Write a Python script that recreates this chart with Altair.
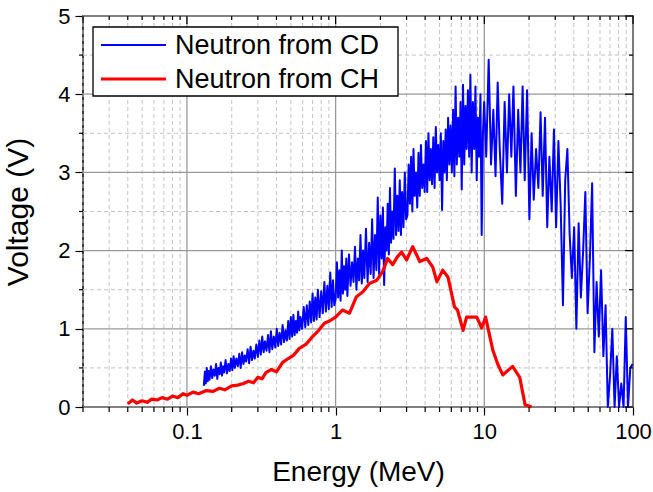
import altair as alt
import pandas as pd

# ---- data ----
cd_x = [0.13, 0.132, 0.134, 0.136, 0.138, 0.14, 0.142, 0.145, 0.148, 0.151, 0.154, 0.157,
        0.16, 0.163, 0.166, 0.169, 0.172, 0.175, 0.178, 0.182, 0.186, 0.19, 0.194, 0.198,
        0.202, 0.206, 0.21, 0.215, 0.22, 0.225, 0.23, 0.235, 0.24, 0.245, 0.25, 0.256,
        0.262, 0.268, 0.274, 0.28, 0.286, 0.293,
        0.3, 0.307, 0.314, 0.321, 0.328, 0.335, 0.343, 0.351, 0.359, 0.367, 0.375, 0.384,
        0.393, 0.402, 0.411, 0.42, 0.43, 0.44, 0.45, 0.46, 0.47, 0.48, 0.49,
        0.5, 0.51, 0.52, 0.53, 0.54, 0.55, 0.56, 0.57, 0.58, 0.595, 0.61, 0.625, 0.64, 0.655,
        0.67, 0.685, 0.7, 0.715, 0.73, 0.745, 0.76, 0.78, 0.8, 0.82, 0.84, 0.86, 0.88, 0.9,
        0.92, 0.94, 0.96, 0.98,
        1.0, 1.02, 1.04, 1.06, 1.08, 1.1, 1.12, 1.14, 1.16, 1.18, 1.2, 1.23, 1.26, 1.29,
        1.32, 1.35, 1.38, 1.41, 1.44, 1.47, 1.5, 1.53, 1.56, 1.6, 1.64, 1.68, 1.72, 1.76,
        1.8, 1.84, 1.88, 1.92, 1.96,
        2.0, 2.04, 2.08, 2.12, 2.16, 2.2, 2.24, 2.28, 2.32, 2.36, 2.4, 2.45, 2.5, 2.55,
        2.6, 2.65, 2.7, 2.75, 2.8, 2.86, 2.92, 2.98,
        3.04, 3.1, 3.16, 3.22, 3.28, 3.34, 3.4, 3.47, 3.54, 3.61, 3.68, 3.75, 3.82, 3.9, 3.97,
        4.05, 4.13, 4.21, 4.29, 4.37, 4.45, 4.54, 4.63, 4.72, 4.81, 4.9, 5.0, 5.1, 5.2,
        5.3, 5.4, 5.5, 5.6, 5.71, 5.82, 5.93,
        6.05, 6.17, 6.29, 6.41, 6.53, 6.66, 6.79, 6.92, 7.05, 7.19, 7.33, 7.47, 7.61, 7.76, 7.91,
        8.06, 8.22, 8.38, 8.55, 8.72, 8.89, 9.06, 9.24, 9.42, 9.6, 9.79, 9.98,
        10.3, 10.7, 11.1, 11.5, 11.9, 12.3, 12.7, 13.2, 13.7, 14.2, 14.7,
        15.2, 15.7, 16.3, 16.9, 17.5, 18.1, 18.7, 19.4,
        20.1, 20.8, 21.5, 22.3, 23.1, 23.9, 24.7,
        25.6, 26.5, 27.4, 28.4, 29.4, 30.4, 31.5, 32.6, 33.8, 35.0,
        36.2, 37.5, 38.8, 40.2, 41.6, 43.1, 44.6, 46.2, 47.8, 49.5,
        51.3, 53.1, 55.0, 56.9, 58.9,
        61.0, 63.2, 65.4, 67.7, 70.1,
        72.6, 75.2, 77.8, 80.6, 83.4, 86.4, 89.4, 92.6, 95.9, 99.3]
cd_y = [0.27, 0.45, 0.3, 0.5, 0.33, 0.46, 0.35, 0.52, 0.37, 0.48, 0.4, 0.55,
        0.36, 0.5, 0.42, 0.57, 0.4, 0.52, 0.44, 0.6, 0.43, 0.55, 0.46, 0.62,
        0.47, 0.65, 0.5, 0.62, 0.52, 0.68, 0.5, 0.7, 0.55, 0.66, 0.58, 0.74,
        0.56, 0.77, 0.6, 0.72, 0.62, 0.8,
        0.64, 0.85, 0.67, 0.9, 0.7, 0.84, 0.72, 0.92, 0.7, 0.97, 0.74, 0.9,
        0.76, 1.0, 0.78, 0.95, 0.8, 1.05, 0.83, 0.98, 0.85, 1.1, 0.87,
        1.15, 0.9, 1.18, 0.92, 1.1, 0.95, 1.22, 0.98, 1.15, 1.0, 1.28, 1.02, 1.3, 1.05,
        1.35, 1.08, 1.45, 1.1, 1.4, 1.12, 1.5, 1.15, 1.48, 1.2, 1.6, 1.22, 1.55, 1.25,
        1.72, 1.28, 1.62, 1.3,
        1.38, 1.85, 1.4, 1.75, 1.36, 2.0, 1.45, 1.8, 1.5, 1.9, 1.42, 1.95, 1.55, 1.85,
        1.6, 2.05, 1.5, 1.9, 1.62, 2.2, 1.58, 2.0, 1.65, 2.28, 1.6, 2.1, 1.7, 2.4,
        1.65, 2.2, 1.75, 2.68, 1.7,
        2.45, 1.9, 2.55, 1.56, 2.3, 2.0, 2.6, 1.95, 2.8, 2.1, 2.5, 2.15, 3.05, 2.2,
        2.7, 2.25, 2.9, 2.2, 2.75, 2.3, 3.0, 2.4,
        2.45, 3.1, 2.6, 3.2, 2.5, 3.3, 2.7, 3.0, 2.55, 3.25, 2.7, 3.35, 2.8, 3.1, 2.75,
        3.4, 2.75, 3.5, 2.9, 3.3, 2.85, 3.45, 2.8, 3.58, 3.0, 3.35, 2.9, 3.5, 2.52,
        3.4, 3.0, 3.55, 2.9, 3.7, 3.1, 3.6,
        3.0, 3.8, 2.95, 4.1, 3.1, 3.7, 3.2, 3.9, 2.78, 4.12, 3.1, 3.85, 3.3, 4.05, 3.2,
        4.25, 3.0, 3.9, 3.3, 4.1, 2.9, 3.7, 3.2, 4.0, 2.2, 3.5, 3.9,
        3.2, 4.44, 3.1, 3.8, 2.95, 4.15, 3.3, 2.6, 3.9, 3.0, 4.0,
        3.2, 4.1, 2.7, 3.8, 3.0, 4.1, 2.9, 4.05,
        2.4, 3.5, 2.65, 3.3, 2.8, 3.77, 2.7,
        3.7, 2.3, 3.2, 2.5, 3.55, 2.3, 3.4, 2.6, 1.3, 2.9,
        3.3, 2.2, 1.65, 2.3, 1.0, 2.35, 1.4, 2.0, 2.75, 1.2,
        1.9, 2.86, 0.7, 1.6, 0.9,
        1.75, 0.65, 1.3, 0.0, 0.4,
        1.0, 0.0, 0.65, 0.0, 0.3, 0.0, 1.15, 0.0, 0.5, 0.55]

ch_x = [0.04, 0.043, 0.046, 0.05, 0.054, 0.058, 0.063, 0.068, 0.074, 0.08,
        0.087, 0.094, 0.1, 0.11, 0.12, 0.135, 0.15, 0.165, 0.18, 0.2,
        0.22, 0.24, 0.26, 0.28, 0.3, 0.32, 0.34, 0.37, 0.4, 0.44,
        0.48, 0.52, 0.57, 0.63, 0.7, 0.77, 0.84, 0.91, 1.0, 1.11,
        1.24, 1.38, 1.52, 1.69, 1.89, 2.07, 2.24, 2.42, 2.6, 2.78,
        3.0, 3.3, 3.68, 4.1, 4.5, 4.8, 5.25, 5.7, 6.3, 6.6,
        7.2, 7.6, 8.9, 9.6, 10.2, 11.4, 12.3, 13.3, 15.5, 17.3,
        18.8, 20.8]
ch_y = [0.04, 0.09, 0.05, 0.08, 0.06, 0.1, 0.09, 0.12, 0.1, 0.14,
        0.12, 0.17, 0.15, 0.19, 0.17, 0.21, 0.2, 0.24, 0.22, 0.27,
        0.28, 0.3, 0.33, 0.31, 0.38, 0.36, 0.44, 0.48, 0.45, 0.57,
        0.62, 0.66, 0.75, 0.8, 0.9, 0.98, 1.07, 1.1, 1.15, 1.24,
        1.2, 1.41, 1.47, 1.58, 1.62, 1.73, 1.9, 1.82, 1.92, 1.98,
        1.88, 2.05, 1.86, 1.9, 1.79, 1.6, 1.75, 1.66, 1.28, 1.24,
        0.98, 1.15, 1.15, 1.01, 1.15, 0.73, 0.55, 0.41, 0.52, 0.38,
        0.03, 0.0]

series_names = ["Neutron from CD", "Neutron from CH"]
series_colors = ["#0000ff", "#ff0000"]
series_widths = [2.0, 3.2]

x_major = [0.1, 1, 10, 100]
x_minor = [0.02, 0.03, 0.04, 0.05, 0.06, 0.07, 0.08, 0.09,
           0.2, 0.3, 0.4, 0.5, 0.6, 0.7, 0.8, 0.9,
           2, 3, 4, 5, 6, 7, 8, 9,
           20, 30, 40, 50, 60, 70, 80, 90]
y_major = [0, 1, 2, 3, 4, 5]
y_minor = [0.5, 1.5, 2.5, 3.5, 4.5]

assert len(cd_x) == len(cd_y), (len(cd_x), len(cd_y))
assert len(ch_x) == len(ch_y)

df = pd.concat([
    pd.DataFrame({"energy": cd_x, "voltage": cd_y, "series": series_names[0]}),
    pd.DataFrame({"energy": ch_x, "voltage": ch_y, "series": series_names[1]}),
])

W, H = 550, 391
FONT = "Liberation Sans"
xscale = alt.Scale(type="log", domain=[0.02, 100], nice=False)
yscale = alt.Scale(domain=[0, 5], nice=False, zero=False)

x_axis = alt.Axis(
    values=x_major, title="Energy (MeV)", format="~g", grid=False, domain=False,
    tickSize=8, tickColor="black", tickWidth=1.2,
    labelFont=FONT, labelFontSize=22, labelColor="black", labelPadding=6,
    titleFont=FONT, titleFontSize=28, titleFontWeight="normal",
    titleColor="black", titlePadding=16, labelFlush=False, labelOverlap=False,
)
y_axis = alt.Axis(
    values=y_major, title="Voltage (V)", grid=False, domain=False,
    tickSize=8, tickColor="black", tickWidth=1.2,
    labelFont=FONT, labelFontSize=22, labelColor="black", labelPadding=5,
    titleFont=FONT, titleFontSize=30, titleFontWeight="normal",
    titleColor="black", titlePadding=24, labelFlush=False, labelOverlap=False,
)


def vdf(vals):
    return pd.DataFrame({"v": vals})


def X(field):
    return alt.X(field, scale=xscale, axis=x_axis)


def Y(field):
    return alt.Y(field, scale=yscale, axis=y_axis)


# grid
gx_major = alt.Chart(vdf(x_major)).mark_rule(color="#9a9a9a", strokeWidth=1.3).encode(x=X("v:Q"))
gx_minor = alt.Chart(vdf(x_minor)).mark_rule(color="#c4c4c4", strokeWidth=1, strokeDash=[4, 3]).encode(x=X("v:Q"))
gy_major = alt.Chart(vdf(y_major)).mark_rule(color="#9a9a9a", strokeWidth=1.3).encode(y=Y("v:Q"))
gy_minor = alt.Chart(vdf(y_minor)).mark_rule(color="#c4c4c4", strokeWidth=1, strokeDash=[4, 3]).encode(y=Y("v:Q"))

lines = alt.Chart(df).mark_line(strokeJoin="round").encode(
    x=X("energy:Q"),
    y=Y("voltage:Q"),
    color=alt.Color("series:N", scale=alt.Scale(domain=series_names, range=series_colors), legend=None),
    strokeWidth=alt.StrokeWidth("series:N", scale=alt.Scale(domain=series_names, range=series_widths), legend=None),
)


def tick_rule(vals, channel, a, b):
    base = alt.Chart(vdf(vals)).mark_rule(color="black", strokeWidth=1.2)
    if channel == "x":
        return base.encode(x=X("v:Q"), y=alt.value(a), y2=alt.value(b))
    return base.encode(y=Y("v:Q"), x=alt.value(a), x2=alt.value(b))


ticks = [
    tick_rule(x_major, "x", 0, 8),
    tick_rule(x_minor, "x", 0, 4),
    tick_rule(x_minor, "x", H, H + 5),
    tick_rule(y_major, "y", W - 8, W),
    tick_rule(y_minor, "y", W - 4, W),
    tick_rule(y_minor, "y", -4, 0),
]

# legend box
one = pd.DataFrame({"k": [0]})
leg_box = alt.Chart(one).mark_rect(fill="white", stroke="black", strokeWidth=1.3).encode(
    x=alt.value(10), x2=alt.value(315), y=alt.value(11), y2=alt.value(80))
leg_items = []
for i, name in enumerate(series_names):
    yy = 29 + 34 * i
    leg_items.append(alt.Chart(one).mark_rule(color=series_colors[i], strokeWidth=series_widths[i]).encode(
        x=alt.value(18), x2=alt.value(83), y=alt.value(yy)))
    leg_items.append(alt.Chart(one).mark_text(
        align="left", baseline="middle", font=FONT, fontSize=27, color="black").encode(
        x=alt.value(92), y=alt.value(yy + 1), text=alt.value(name)))

chart = alt.layer(gx_minor, gy_minor, gx_major, gy_major, lines, *ticks, leg_box, *leg_items).properties(
    width=W, height=H,
    autosize=alt.AutoSizeParams(type="none"),
    padding={"left": 83, "top": 16, "right": 20, "bottom": 85},
    background="white",
).configure_view(stroke="black", strokeWidth=1.5)

chart.save("out.html", embed_options={"renderer": "svg", "actions": False})
